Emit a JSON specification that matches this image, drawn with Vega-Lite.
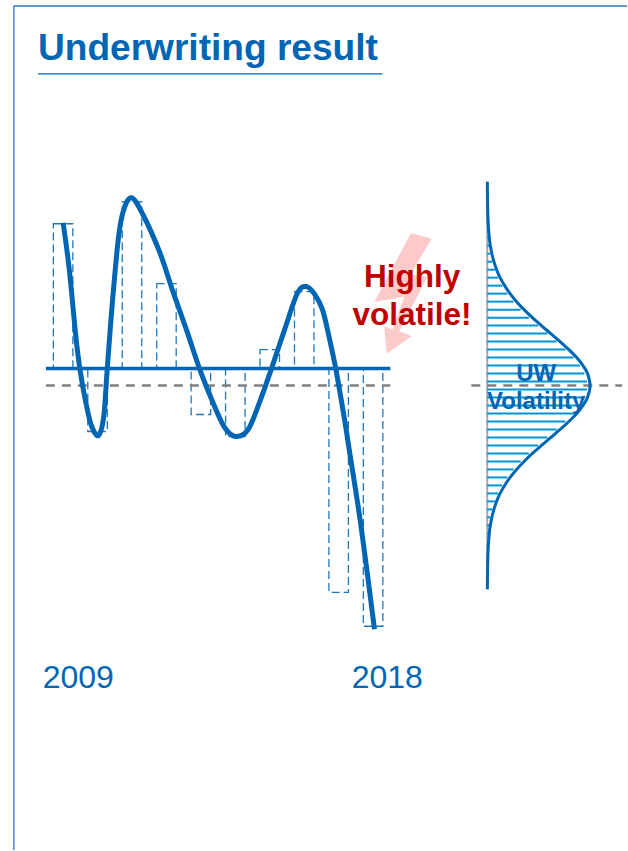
{
"$schema":"https://vega.github.io/schema/vega-lite/v6.json",
"width":628,"height":851,"padding":0,
"autosize":{"type":"fit","contains":"padding"},
"background":"white",
"config":{"view":{"stroke":null},"text":{"font":"Liberation Sans"}},
"layer":[
 {"data":{"values":[
   {"x":2007.57,"x2":2025.371,"y":363,"y2":363},
   {"x":2007.57,"x2":2007.57,"y":363,"y2":-482}]},
  "mark":{"type":"rule","color":"#2e75b6","strokeWidth":1.3},
  "encoding":{
   "x":{"field":"x","type":"quantitative","scale":{"domain":[2007.168,2025.371]},"axis":null},
   "x2":{"field":"x2"},
   "y":{"field":"y","type":"quantitative","scale":{"domain":[-482,369]},"axis":null},
   "y2":{"field":"y2"}}},
 {"data":{"values":[{"x":2008.27,"x2":2018.27,"y":295}]},
  "mark":{"type":"rule","color":"#0066b3","strokeWidth":1.2},
  "encoding":{
   "x":{"field":"x","type":"quantitative","scale":{"domain":[2007.168,2025.371]},"axis":null},
   "x2":{"field":"x2"},
   "y":{"field":"y","type":"quantitative","scale":{"domain":[-482,369]},"axis":null}}},
 {"data":{"values":[
   {"year":2009,"result":145},{"year":2010,"result":-63},{"year":2011,"result":167},{"year":2012,"result":85},
   {"year":2013,"result":-46},{"year":2014,"result":-68},{"year":2015,"result":19},{"year":2016,"result":77},
   {"year":2017,"result":-224},{"year":2018,"result":-258}]},
  "mark":{"type":"bar","width":19.5,"fill":"transparent","stroke":"#1f78bd","strokeWidth":1.3,"strokeDash":[8,4]},
  "encoding":{
   "x":{"field":"year","type":"quantitative","scale":{"domain":[2007.168,2025.371],"padding":0},"axis":null},
   "y":{"field":"result","type":"quantitative","scale":{"domain":[-482,369]},"axis":null}}},
 {"data":{"values":[{"x":2008.5,"x2":2018.5,"y":-17}]},
  "mark":{"type":"rule","color":"#808080","strokeWidth":2.5,"strokeDash":[9,7]},
  "encoding":{
   "x":{"field":"x","type":"quantitative","scale":{"domain":[2007.168,2025.371]},"axis":null},
   "x2":{"field":"x2"},
   "y":{"field":"y","type":"quantitative","scale":{"domain":[-482,369]},"axis":null}}},
 {"data":{"values":[{"x":2008.5,"x2":2018.5,"y":0}]},
  "mark":{"type":"rule","color":"#0066b3","strokeWidth":3.5},
  "encoding":{
   "x":{"field":"x","type":"quantitative","scale":{"domain":[2007.168,2025.371]},"axis":null},
   "x2":{"field":"x2"},
   "y":{"field":"y","type":"quantitative","scale":{"domain":[-482,369]},"axis":null}}},
 {"data":{"values":[
   {"year":2009.00,"result":146},{"year":2009.18,"result":99},{"year":2009.37,"result":32},{"year":2009.49,"result":-1},
   {"year":2009.66,"result":-34},{"year":2009.83,"result":-58},{"year":2010.03,"result":-67},{"year":2010.18,"result":-48},
   {"year":2010.28,"result":-1},{"year":2010.43,"result":66},{"year":2010.61,"result":132},{"year":2010.76,"result":159},
   {"year":2010.99,"result":171},{"year":2011.32,"result":154},{"year":2011.81,"result":116},{"year":2012.19,"result":77},
   {"year":2012.58,"result":39},{"year":2012.97,"result":-1},{"year":2013.35,"result":-34},{"year":2013.69,"result":-59},
   {"year":2014.01,"result":-68},{"year":2014.37,"result":-61},{"year":2014.70,"result":-34},{"year":2015.04,"result":-1},
   {"year":2015.43,"result":39},{"year":2015.81,"result":76},{"year":2016.08,"result":82},{"year":2016.31,"result":74},
   {"year":2016.53,"result":59},{"year":2016.72,"result":32},{"year":2016.92,"result":-1},{"year":2017.18,"result":-53},
   {"year":2017.31,"result":-82},{"year":2017.65,"result":-158},{"year":2018.04,"result":-261}]},
  "mark":{"type":"line","color":"#0066b3","strokeWidth":5,"interpolate":"cardinal"},
  "encoding":{
   "x":{"field":"year","type":"quantitative","scale":{"domain":[2007.168,2025.371]},"axis":null},
   "y":{"field":"result","type":"quantitative","scale":{"domain":[-482,369]},"axis":null}}},
 {"data":{"values":[{"x":2019.08,"y":75}]},
  "mark":{"type":"point","filled":true,"color":"#fdcaca","opacity":1,"size":4,"strokeWidth":0,
   "shape":"M0.7,-60.7L21.3,-55L0,-19L17,-17L-11,37.7L1.3,42.7L-23.7,60L-26,32.7L-18,36L-6,3L-36,8.3Z"},
  "encoding":{
   "x":{"field":"x","type":"quantitative","scale":{"domain":[2007.168,2025.371]},"axis":null},
   "y":{"field":"y","type":"quantitative","scale":{"domain":[-482,369]},"axis":null}}},
 {"data":{"values":[{"t":"Underwriting result","x":2008.27,"y":309}]},
  "mark":{"type":"text","align":"left","baseline":"alphabetic","fontSize":37.1,"fontWeight":"bold","color":"#0066b3"},
  "encoding":{
   "x":{"field":"x","type":"quantitative","scale":{"domain":[2007.168,2025.371]},"axis":null},
   "y":{"field":"y","type":"quantitative","scale":{"domain":[-482,369]},"axis":null},
   "text":{"field":"t"}}},
 {"data":{"values":[{"t":"2009","x":2009.44,"y":-320},{"t":"2018","x":2018.41,"y":-320}]},
  "mark":{"type":"text","align":"center","baseline":"alphabetic","fontSize":32,"color":"#0066b3"},
  "encoding":{
   "x":{"field":"x","type":"quantitative","scale":{"domain":[2007.168,2025.371]},"axis":null},
   "y":{"field":"y","type":"quantitative","scale":{"domain":[-482,369]},"axis":null},
   "text":{"field":"t"}}},
 {"data":{"values":[{"t":"Highly","x":2019.13,"y":82},{"t":"volatile!","x":2019.13,"y":44}]},
  "mark":{"type":"text","align":"center","baseline":"alphabetic","fontSize":31.5,"fontWeight":"bold","color":"#c00000"},
  "encoding":{
   "x":{"field":"x","type":"quantitative","scale":{"domain":[2007.168,2025.371]},"axis":null},
   "y":{"field":"y","type":"quantitative","scale":{"domain":[-482,369]},"axis":null},
   "text":{"field":"t"}}},
 {"data":{"values":[{"x":0,"y":187,"y2":-221}]},
  "mark":{"type":"rule","color":"#a6a6a6","strokeWidth":2},
  "encoding":{
   "x":{"field":"x","type":"quantitative","scale":{"domain":[-4.738,1.359]},"axis":null},
   "y":{"field":"y","type":"quantitative","scale":{"domain":[-482,369]},"axis":null},
   "y2":{"field":"y2"}}},
 {"data":{"values":[
   {"base":0,"level":131,"reach":0.012},{"base":0,"level":123,"reach":0.02},{"base":0,"level":115,"reach":0.03},{"base":0,"level":107,"reach":0.05},
   {"base":0,"level":99,"reach":0.075},{"base":0,"level":91,"reach":0.105},{"base":0,"level":83,"reach":0.145},{"base":0,"level":75,"reach":0.195},
   {"base":0,"level":67,"reach":0.255},{"base":0,"level":59,"reach":0.325},{"base":0,"level":51,"reach":0.405},{"base":0,"level":43,"reach":0.495},
   {"base":0,"level":35,"reach":0.585},{"base":0,"level":27,"reach":0.675},{"base":0,"level":19,"reach":0.76},{"base":0,"level":11,"reach":0.84},
   {"base":0,"level":3,"reach":0.9},{"base":0,"level":-5,"reach":0.945},{"base":0,"level":-13,"reach":0.97},{"base":0,"level":-21,"reach":0.97},
   {"base":0,"level":-29,"reach":0.945},{"base":0,"level":-37,"reach":0.9},{"base":0,"level":-45,"reach":0.84},{"base":0,"level":-53,"reach":0.76},
   {"base":0,"level":-61,"reach":0.675},{"base":0,"level":-69,"reach":0.585},{"base":0,"level":-77,"reach":0.495},{"base":0,"level":-85,"reach":0.405},
   {"base":0,"level":-93,"reach":0.325},{"base":0,"level":-101,"reach":0.255},{"base":0,"level":-109,"reach":0.195},{"base":0,"level":-117,"reach":0.145},
   {"base":0,"level":-125,"reach":0.105},{"base":0,"level":-133,"reach":0.075},{"base":0,"level":-141,"reach":0.05},{"base":0,"level":-149,"reach":0.03},
   {"base":0,"level":-157,"reach":0.02},{"base":0,"level":-165,"reach":0.012}]},
  "mark":{"type":"rule","color":"#0095d5","strokeWidth":2},
  "encoding":{
   "x":{"field":"base","type":"quantitative","scale":{"domain":[-4.738,1.359]},"axis":null},
   "x2":{"field":"reach"},
   "y":{"field":"level","type":"quantitative","scale":{"domain":[-482,369]},"axis":null}}},
 {"data":{"values":[{"x":-0.155,"x2":1.311,"y":-17}]},
  "mark":{"type":"rule","color":"#808080","strokeWidth":2.5,"strokeDash":[9,7]},
  "encoding":{
   "x":{"field":"x","type":"quantitative","scale":{"domain":[-4.738,1.359]},"axis":null},
   "x2":{"field":"x2"},
   "y":{"field":"y","type":"quantitative","scale":{"domain":[-482,369]},"axis":null}}},
 {"data":{"values":[
   {"level":187,"density":0.001},{"level":153,"density":0.006},{"level":131,"density":0.02},{"level":123,"density":0.0305},
   {"level":115,"density":0.045},{"level":107,"density":0.065},{"level":99,"density":0.091},{"level":91,"density":0.125},
   {"level":83,"density":0.169},{"level":75,"density":0.222},{"level":67,"density":0.285},{"level":59,"density":0.358},
   {"level":51,"density":0.439},{"level":43,"density":0.527},{"level":35,"density":0.618},{"level":27,"density":0.708},
   {"level":19,"density":0.794},{"level":11,"density":0.87},{"level":3,"density":0.931},{"level":-5,"density":0.975},
   {"level":-17,"density":1},{"level":-29,"density":0.975},{"level":-37,"density":0.931},{"level":-45,"density":0.87},
   {"level":-53,"density":0.794},{"level":-61,"density":0.708},{"level":-69,"density":0.618},{"level":-77,"density":0.527},
   {"level":-85,"density":0.439},{"level":-93,"density":0.358},{"level":-101,"density":0.285},{"level":-109,"density":0.222},
   {"level":-117,"density":0.169},{"level":-125,"density":0.125},{"level":-133,"density":0.091},{"level":-141,"density":0.065},
   {"level":-149,"density":0.045},{"level":-157,"density":0.0305},{"level":-165,"density":0.02},{"level":-187,"density":0.006},
   {"level":-221,"density":0.001}]},
  "mark":{"type":"line","color":"#0066b3","strokeWidth":3,"interpolate":"cardinal"},
  "encoding":{
   "x":{"field":"density","type":"quantitative","scale":{"domain":[-4.738,1.359]},"axis":null},
   "y":{"field":"level","type":"quantitative","scale":{"domain":[-482,369]},"axis":null},
   "order":{"field":"level","sort":"descending"}}},
 {"data":{"values":[{"t":"UW","x":0.476,"y":-12},{"t":"Volatility","x":0.476,"y":-40}]},
  "mark":{"type":"text","align":"center","baseline":"alphabetic","fontSize":24,"fontWeight":"bold","color":"#0066b3"},
  "encoding":{
   "x":{"field":"x","type":"quantitative","scale":{"domain":[-4.738,1.359]},"axis":null},
   "y":{"field":"y","type":"quantitative","scale":{"domain":[-482,369]},"axis":null},
   "text":{"field":"t"}}}
],
"resolve":{"scale":{"x":"independent"}}
}
